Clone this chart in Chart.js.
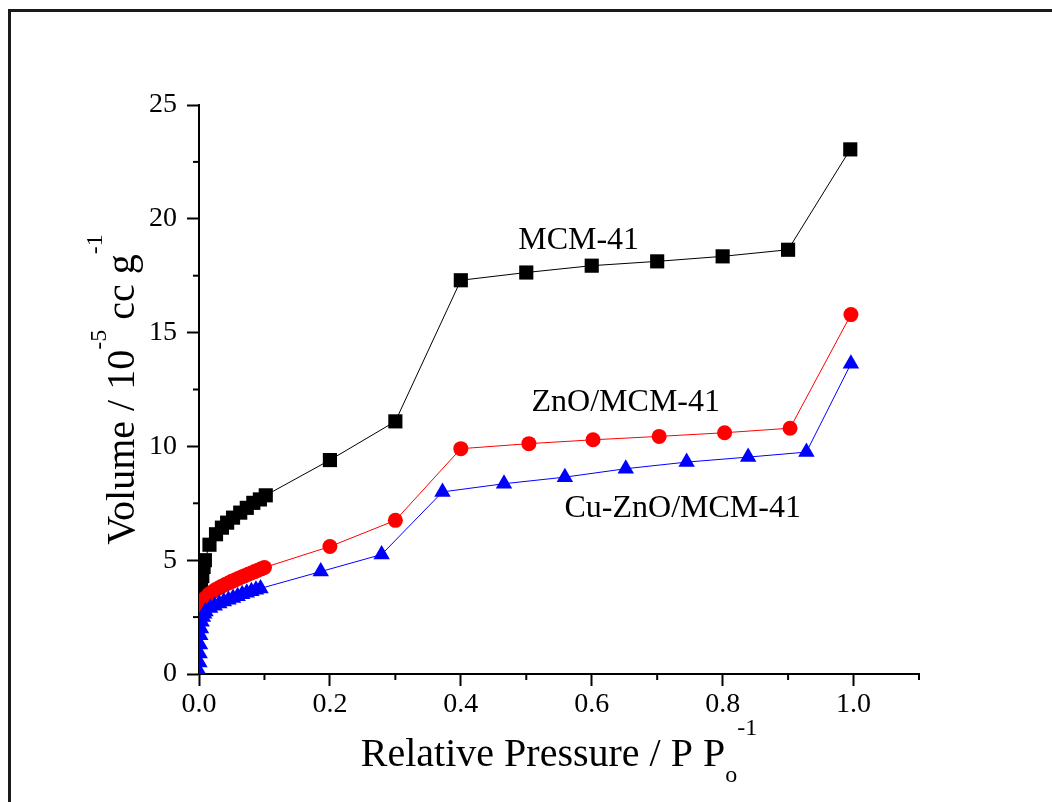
<!DOCTYPE html>
<html><head><meta charset="utf-8">
<script src="https://cdn.jsdelivr.net/npm/chart.js@4.4.1/dist/chart.umd.min.js"></script>
<style>
html,body{margin:0;padding:0;background:#fff;width:1052px;height:802px;overflow:hidden}
#wrap{position:relative;width:1052px;height:802px}
#frame{position:absolute;left:8px;top:9px;width:1100px;height:900px;border-top:3px solid #1a1a1a;border-left:3px solid #1a1a1a;pointer-events:none}
canvas{position:absolute;left:0;top:0}
</style></head><body>
<div id="wrap"><canvas id="c" width="1052" height="802"></canvas><div id="frame"></div></div>
<script>
// ---- data ----
const mcmX = [0.0005,0.001,0.002,0.003,0.005,0.007,0.009,0.016,0.026,0.035,0.043,0.052,0.063,0.073,0.083,0.093,0.102,0.2,0.3,0.4,0.5,0.6,0.7,0.8,0.9,0.995];
const mcmY = [2.6,3.0,3.5,3.9,4.3,4.7,5.0,5.68,6.14,6.43,6.65,6.87,7.09,7.3,7.52,7.67,7.85,9.4,11.1,17.3,17.64,17.94,18.13,18.35,18.64,23.05];

const znoX = [0.0005,0.002,0.004,0.007,0.01,0.015,0.02,0.025,0.03,0.035,0.04,0.045,0.05,0.055,0.06,0.065,0.07,0.075,0.08,0.085,0.09,0.095,0.1,0.2,0.3,0.4,0.504,0.602,0.703,0.803,0.903,0.996];
const znoY = [2.7,2.9,3.05,3.2,3.35,3.5,3.6,3.7,3.78,3.86,3.93,4.0,4.07,4.13,4.2,4.26,4.32,4.38,4.44,4.5,4.56,4.62,4.68,5.6,6.75,9.9,10.12,10.29,10.44,10.6,10.8,15.79];

const cuX = [0.0003,0.0006,0.001,0.0015,0.002,0.003,0.004,0.006,0.008,0.01,0.017,0.024,0.031,0.038,0.045,0.052,0.059,0.066,0.073,0.08,0.087,0.094,0.186,0.279,0.372,0.466,0.559,0.652,0.745,0.839,0.928,0.996];
const cuY = [0.1,0.5,0.9,1.3,1.7,2.0,2.3,2.5,2.65,2.75,2.9,3.0,3.1,3.18,3.26,3.34,3.42,3.5,3.57,3.64,3.7,3.76,4.5,5.25,8.0,8.36,8.65,9.02,9.31,9.53,9.75,13.63];

const seriesNames = ['MCM-41','ZnO/MCM-41','Cu-ZnO/MCM-41'];
const labelX = [0.58,0.652,0.739];
const labelY = [19.04,11.93,7.28];

const xMin = 0, xMax = 1.1, xStep = 0.1;
const yMin = 0, yMax = 25, yStep = 2.5;

const toPts = (xs, ys) => xs.map((x, i) => ({x, y: ys[i]}));
const FONT = '"Liberation Serif","Times New Roman",serif';

function drawRich(ctx, parts, startX, baseY) {
  let x = startX;
  for (const p of parts) {
    ctx.font = p.size + 'px ' + FONT;
    ctx.fillText(p.t, x, baseY + (p.dy || 0));
    x += ctx.measureText(p.t).width;
  }
}
function richWidth(ctx, parts) {
  let w = 0;
  for (const p of parts) { ctx.font = p.size + 'px ' + FONT; w += ctx.measureText(p.t).width; }
  return w;
}

const decor = {
  id: 'decor',
  afterDraw(chart) {
    const ctx = chart.ctx, xs = chart.scales.x, ys = chart.scales.y, ca = chart.chartArea;
    ctx.save();
    // minor ticks
    ctx.strokeStyle = '#000'; ctx.lineWidth = 2;
    xs.ticks.forEach((t, i) => { if (i % 2) { const px = xs.getPixelForTick(i); ctx.beginPath(); ctx.moveTo(px, ca.bottom); ctx.lineTo(px, ca.bottom + 6); ctx.stroke(); } });
    ys.ticks.forEach((t, i) => { if (i % 2) { const py = ys.getPixelForTick(i); ctx.beginPath(); ctx.moveTo(ca.left, py); ctx.lineTo(ca.left - 6, py); ctx.stroke(); } });
    ctx.fillStyle = '#000';
    ctx.textAlign = 'left'; ctx.textBaseline = 'alphabetic';
    // x title
    const xParts = [{t:'Relative Pressure / P P', size:40},{t:'o', size:24, dy:16},{t:'-1', size:24, dy:-31}];
    const xw = richWidth(ctx, xParts);
    drawRich(ctx, xParts, (ca.left + ca.right) / 2 - xw / 2, 766);
    // y title
    const yParts = [{t:'Volume / 10', size:40},{t:'-5', size:24, dy:-28},{t:' cc g', size:40},{t:'-1', size:24, dy:-32}];
    const yw = richWidth(ctx, yParts);
    ctx.save();
    ctx.translate(134, (ca.top + ca.bottom) / 2);
    ctx.rotate(-Math.PI / 2);
    drawRich(ctx, yParts, -yw / 2, 0);
    ctx.restore();
    // series annotations
    ctx.font = '32px ' + FONT;
    ctx.textAlign = 'center'; ctx.textBaseline = 'middle';
    seriesNames.forEach((n, i) => ctx.fillText(n, xs.getPixelForValue(labelX[i]), ys.getPixelForValue(labelY[i])));
    ctx.restore();
  }
};

const clipLB = {left: 0, bottom: 0, top: false, right: false};

new Chart(document.getElementById('c'), {
  type: 'scatter',
  data: {
    datasets: [
      {label: seriesNames[0], data: toPts(mcmX, mcmY), showLine: true, borderColor: '#000', borderWidth: 1,
       pointStyle: 'rect', pointRadius: 10, pointBackgroundColor: '#000', pointBorderColor: '#000', pointBorderWidth: 0, order: 3, clip: clipLB},
      {label: seriesNames[1], data: toPts(znoX, znoY), showLine: true, borderColor: '#ff0000', borderWidth: 1,
       pointStyle: 'circle', pointRadius: 7.5, pointBackgroundColor: '#ff0000', pointBorderColor: '#ff0000', pointBorderWidth: 0, order: 2, clip: clipLB},
      {label: seriesNames[2], data: toPts(cuX, cuY), showLine: true, borderColor: '#0000ff', borderWidth: 1,
       pointStyle: 'triangle', pointRadius: 9.5, pointBackgroundColor: '#0000ff', pointBorderColor: '#0000ff', pointBorderWidth: 0, order: 1, clip: clipLB}
    ]
  },
  options: {
    responsive: false, animation: false, devicePixelRatio: 1,
    layout: {padding: {left: 0, top: 105, right: 133, bottom: 0}},
    plugins: {legend: {display: false}, tooltip: {enabled: false}},
    elements: {line: {tension: 0}},
    scales: {
      x: {
        type: 'linear', min: xMin, max: xMax,
        afterFit: s => { s.height = 128; },
        ticks: {stepSize: xStep, autoSkip: false, maxRotation: 0, padding: 2, color: '#000',
                font: {family: FONT, size: 28},
                callback: (v, i) => i % 2 === 0 ? Number(v).toFixed(1) : ''},
        grid: {drawOnChartArea: false, drawTicks: true, tickLength: 12, tickWidth: 2,
               tickColor: c => c.index % 2 === 0 ? '#000' : 'rgba(0,0,0,0)'},
        border: {display: true, color: '#000', width: 2}
      },
      y: {
        type: 'linear', min: yMin, max: yMax,
        afterFit: s => { s.width = 199; },
        ticks: {stepSize: yStep, autoSkip: false, padding: 10, color: '#000',
                font: {family: FONT, size: 28},
                callback: (v, i) => i % 2 === 0 ? String(Math.round(v)) : ''},
        grid: {drawOnChartArea: false, drawTicks: true, tickLength: 12, tickWidth: 2,
               tickColor: c => c.index % 2 === 0 ? '#000' : 'rgba(0,0,0,0)'},
        border: {display: true, color: '#000', width: 2}
      }
    }
  },
  plugins: [decor]
});
</script>
</body></html>
